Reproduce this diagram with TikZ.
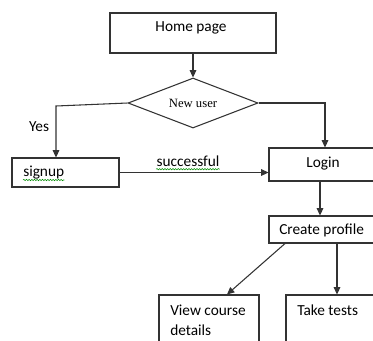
\documentclass[tikz,border=0pt]{standalone}
\usepackage{fontspec}
\setmainfont{Carlito}
\newfontfamily\tnr{Liberation Serif}
\usetikzlibrary{arrows.meta,shapes.geometric,fit,decorations.pathmorphing}
\tikzset{
  box/.style={draw=black!80,line width=0.8pt,inner sep=0pt},
  txt/.style={font=\fontsize{11.5}{15}\selectfont,inner sep=0pt},
  arr/.style={draw=black!80,line width=0.8pt,-{Triangle[length=5.5pt,width=5pt]}},
  wavy/.style={draw=green!55!black,line width=0.4pt,decorate,decoration={snake,amplitude=0.5pt,segment length=2pt}}
}
\begin{document}
\begin{tikzpicture}[x=0.75pt,y=-0.75pt]
    \clip (0,0) rectangle (373,340);
    % boxes
    \node[box,fit={(110,13) (276,53)}] (home) {};
    \node[txt,anchor=base] (homet) at (191,31) {Home page};
    \node[box,diamond,aspect=2.6,minimum width=97.5pt,minimum height=37.5pt,font=\tnr\fontsize{9.5}{11}\selectfont] (dia) at (193,103) {New user};
    \node[box,fit={(12,158) (119,187)}] (signup) {};
    \node[txt,anchor=base west] (signupt) at (23,176) {signup};
    \node[box,fit={(269,148) (381,181)}] (login) {};
    \node[txt,anchor=base] (logint) at (323,167) {Login};
    \node[box,fit={(269,216) (381,243)}] (create) {};
    \node[txt,anchor=base west] (createt) at (279,234) {Create profile};
    \node[box,fit={(159,295) (259,360)}] (view) {};
    \node[txt,anchor=base west] (viewt) at (170,315) {View course};
    \node[txt,anchor=base west] (viewt2) at (170,335) {details};
    \node[box,fit={(286,295) (381,360)}] (take) {};
    \node[txt,anchor=base west] (taket) at (297,315) {Take tests};
    % connectors
    \coordinate (yesc) at (56,106);
    \draw[arr] (home.south) -- (dia.north);
    \draw[arr] (dia.west) -- (yesc) -- (yesc |- signup.north);
    \node[txt,anchor=base] (yes) at (39,131) {Yes};
    \draw[arr] (dia.east) -| (login.north);
    \draw[arr] (signup.east) -- (signup.east -| login.west) node[txt,pos=0.46,above=4pt] (succ) {successful};
    \draw[arr] (320,0 |- login.south) -- (320,0 |- create.north);
    \draw[arr] (285,0 |- create.south) -- (227,0 |- view.north);
    \draw[arr] (337,0 |- create.south) -- (337,0 |- take.north);
    % spell check lines
    \draw[wavy] ([yshift=-3pt]signupt.base west) -- ([yshift=-3pt]signupt.base east);
    \draw[wavy] ([yshift=-2pt]succ.base west) -- ([yshift=-2pt]succ.base east);
\end{tikzpicture}
\end{document}
